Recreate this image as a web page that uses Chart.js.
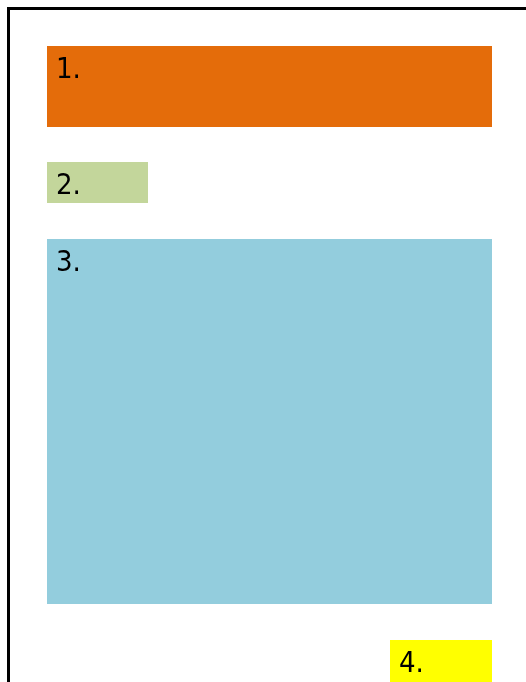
<!DOCTYPE html>
<html>
<head>
<meta charset="utf-8">
<script src="https://cdn.jsdelivr.net/npm/chart.js@4"></script>
<style>
  html, body { margin: 0; padding: 0; background: #ffffff; overflow: hidden; }
  #wrap { position: relative; width: 526px; height: 682px; }
</style>
</head>
<body>
<div id="wrap"><canvas id="c" width="526" height="682"></canvas></div>
<script>
// Block labels and colours
const labels = ["1.", "2.", "3.", "4."];
const colors = ["#E46C0A", "#C3D69B", "#93CDDD", "#FFFF00"];
// Block extents in layout units (x: left→right, y: top→bottom)
const xStart = [47, 47, 47, 390];
const xEnd   = [492, 148, 492, 492];
const yStart = [46, 162, 239, 640];
const yEnd   = [127, 203, 604, 686];
// Frame line (left edge and top edge)
const frameX = [8.5, 8.5, 530];
const frameY = [690, 8.5, 8.5];

const datasets = labels.map((lab, i) => ({
  label: lab,
  data: [{ x: xStart[i], y: yStart[i] }, { x: xEnd[i], y: yStart[i] }],
  fill: { value: yEnd[i] },
  backgroundColor: colors[i],
  borderWidth: 0,
  pointRadius: 0,
  tension: 0,
  order: 2
}));
datasets.push({
  label: "frame",
  data: frameX.map((x, i) => ({ x: x, y: frameY[i] })),
  fill: false,
  borderColor: "#000000",
  borderWidth: 3,
  pointRadius: 0,
  tension: 0,
  order: 1
});

const labelPlugin = {
  id: "blockLabels",
  afterDatasetsDraw(chart) {
    const ctx = chart.ctx;
    const xs = chart.scales.x, ys = chart.scales.y;
    ctx.save();
    ctx.fillStyle = "#000000";
    ctx.font = '29px "Liberation Sans Narrow", "DejaVu Sans Condensed", sans-serif';
    ctx.textBaseline = "alphabetic";
    ctx.textAlign = "left";
    labels.forEach((lab, i) => {
      const px = xs.getPixelForValue(xStart[i]) + 9;
      const py = ys.getPixelForValue(yStart[i]) + 32;
      ctx.fillText(lab, px, py);
    });
    ctx.restore();
  }
};

new Chart(document.getElementById("c"), {
  type: "line",
  data: { datasets: datasets },
  options: {
    responsive: false,
    animation: false,
    devicePixelRatio: 1,
    layout: { padding: 0 },
    plugins: { legend: { display: false }, tooltip: { enabled: false } },
    scales: {
      x: { type: "linear", min: 0, max: 526, display: false },
      y: { type: "linear", min: 0, max: 682, reverse: true, display: false }
    }
  },
  plugins: [labelPlugin]
});
</script>
</body>
</html>
